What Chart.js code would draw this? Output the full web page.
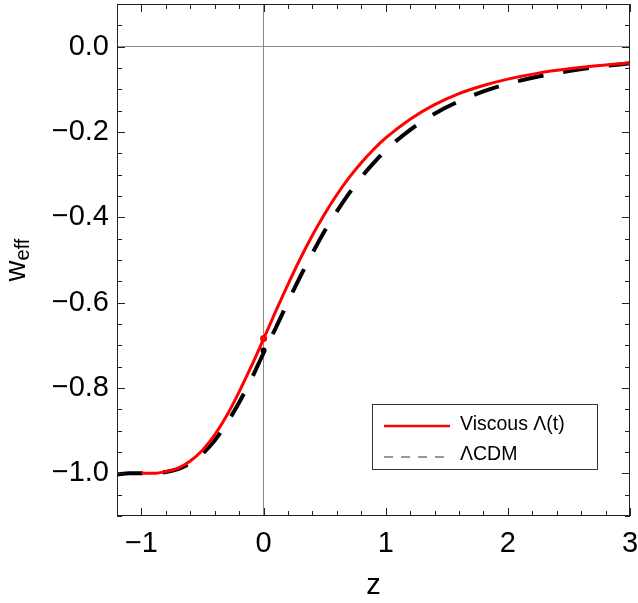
<!DOCTYPE html>
<html>
<head>
<meta charset="utf-8">
<script src="https://cdn.jsdelivr.net/npm/chart.js@4.4.1/dist/chart.umd.min.js"></script>
<style>
  html, body { margin: 0; padding: 0; background: #fff; }
  canvas { display: block; }
</style>
</head>
<body>
<canvas id="weffChart" width="638" height="603"></canvas>
<script>
// values
const zLcdm = [-1.2, -1.1, -1.0, -0.9, -0.8, -0.7, -0.6, -0.5, -0.4, -0.3, -0.2, -0.1, 0.0,
  0.1, 0.2, 0.3, 0.4, 0.5, 0.6, 0.7, 0.8, 0.9, 1.0, 1.2, 1.4, 1.6, 1.8, 2.0, 2.25, 2.5, 2.75, 3.0]
const wLcdm = [-1.003, -1.000, -1.000, -1.000, -0.997, -0.990, -0.976, -0.954, -0.923, -0.882, -0.834, -0.779, -0.718,
  -0.659, -0.598, -0.539, -0.484, -0.432, -0.386, -0.344, -0.306, -0.273, -0.243, -0.195, -0.157, -0.128, -0.105, -0.087, -0.070, -0.057, -0.047, -0.039]

const zViscous = [-1.0, -0.9, -0.8, -0.7, -0.6, -0.5, -0.4, -0.3, -0.2, -0.1, 0.0,
  0.1, 0.2, 0.3, 0.4, 0.5, 0.6, 0.7, 0.8, 0.9, 1.0, 1.2, 1.4, 1.6, 1.8, 2.0, 2.25, 2.5, 2.75, 3.0]
const wViscous = [-1.000, -1.000, -0.996, -0.988, -0.971, -0.946, -0.910, -0.864, -0.809, -0.749, -0.685,
  -0.620, -0.557, -0.497, -0.442, -0.392, -0.347, -0.307, -0.272, -0.241, -0.214, -0.170, -0.136, -0.110, -0.091, -0.076, -0.062, -0.052, -0.044, -0.038]

// today's values (z = 0) marked with a dot
const zToday = [0.0]
const wTodayViscous = [-0.684]
const wTodayLcdm = [-0.712]

const seriesLabels = ['Viscous \u039B(t)', '\u039BCDM']
const xTickValues = [-1, 0, 1, 2, 3]
const xTickLabels = ['\u22121', '0', '1', '2', '3']
const yTickValues = [-1.0, -0.8, -0.6, -0.4, -0.2, 0.0]
const yTickLabels = ['\u22121.0', '\u22120.8', '\u22120.6', '\u22120.4', '\u22120.2', '0.0']

const FONT = '"Liberation Sans", Arial, Helvetica, sans-serif'
const RED = '#ff0000'

function toPoints(xs, ys) {
  return xs.map((x, i) => ({ x: x, y: ys[i] }))
}

// frame + inward ticks on all four sides (mathematica style)
const framePlugin = {
  id: 'frame',
  afterDatasetsDraw(chart) {
    const { ctx, chartArea: a, scales } = chart
    const xs = scales.x, ys = scales.y
    ctx.save()
    ctx.strokeStyle = '#222'
    ctx.lineWidth = 1
    ctx.strokeRect(a.left + 0.5, a.top + 0.5, a.right - a.left - 1, a.bottom - a.top - 1)
    ctx.beginPath()
    // x ticks, minor every 0.2
    for (let i = -6; i <= 15; i++) {
      const px = Math.round(xs.getPixelForValue(i * 0.2)) + 0.5
      const len = (i % 5 === 0) ? 8 : 5
      ctx.moveTo(px, a.bottom); ctx.lineTo(px, a.bottom - len)
      ctx.moveTo(px, a.top); ctx.lineTo(px, a.top + len)
    }
    // y ticks, minor every 0.05
    for (let i = -22; i <= 2; i++) {
      const py = Math.round(ys.getPixelForValue(i * 0.05)) + 0.5
      const len = (i % 4 === 0) ? 8 : 5
      ctx.moveTo(a.left, py); ctx.lineTo(a.left + len, py)
      ctx.moveTo(a.right, py); ctx.lineTo(a.right - len, py)
    }
    ctx.stroke()
    ctx.restore()
  },
  afterDraw(chart) {
    const { ctx, chartArea: a } = chart
    ctx.save()
    // y axis title w_eff
    ctx.translate(25, (a.top + a.bottom) / 2)
    ctx.rotate(-Math.PI / 2)
    ctx.fillStyle = '#000'
    ctx.textBaseline = 'alphabetic'
    ctx.font = '29px ' + FONT
    const wW = ctx.measureText('w').width
    ctx.font = '20px ' + FONT
    const wE = ctx.measureText('eff').width
    const start = -(wW + wE) / 2
    ctx.font = '29px ' + FONT
    ctx.textAlign = 'left'
    ctx.fillText('w', start, 0)
    ctx.font = '20px ' + FONT
    ctx.fillText('eff', start + wW, 4)
    ctx.restore()

    // legend box
    const bx = a.right - 258, by = a.bottom - 112, bw = 225, bh = 65
    ctx.save()
    ctx.fillStyle = '#fff'
    ctx.fillRect(bx, by, bw, bh)
    ctx.strokeStyle = '#333'
    ctx.lineWidth = 1
    ctx.strokeRect(bx + 0.5, by + 0.5, bw, bh)
    ctx.font = '19.5px ' + FONT
    ctx.fillStyle = '#000'
    ctx.textBaseline = 'middle'
    ctx.textAlign = 'left'
    // red entry
    ctx.strokeStyle = RED
    ctx.lineWidth = 2.5
    ctx.beginPath(); ctx.moveTo(bx + 12, by + 22); ctx.lineTo(bx + 78, by + 22); ctx.stroke()
    ctx.fillText(chart.data.datasets[0].label, bx + 88, by + 21)
    // dashed entry
    ctx.strokeStyle = '#777'
    ctx.lineWidth = 1.5
    ctx.setLineDash([9, 8])
    ctx.beginPath(); ctx.moveTo(bx + 12, by + 53); ctx.lineTo(bx + 80, by + 53); ctx.stroke()
    ctx.setLineDash([])
    ctx.fillText(chart.data.datasets[1].label, bx + 88, by + 51)
    ctx.restore()
  }
}

const ctx = document.getElementById('weffChart').getContext('2d')
const weffChart = new Chart(ctx, {
  type: 'line',
  data: {
    datasets: [
      {
        label: seriesLabels[0],
        data: toPoints(zViscous, wViscous),
        borderColor: RED,
        borderWidth: 3,
        pointRadius: 0,
        cubicInterpolationMode: 'monotone',
        order: 1
      },
      {
        label: seriesLabels[1],
        data: toPoints(zLcdm, wLcdm),
        borderColor: '#000',
        borderWidth: 4,
        borderDash: [26, 20],
        borderCapStyle: 'butt',
        pointRadius: 0,
        cubicInterpolationMode: 'monotone',
        order: 2
      },
      {
        label: 'today viscous',
        type: 'scatter',
        data: toPoints(zToday, wTodayViscous),
        pointRadius: 3.5,
        pointBackgroundColor: RED,
        pointBorderWidth: 0,
        order: 0
      },
      {
        label: 'today lcdm',
        type: 'scatter',
        data: toPoints(zToday, wTodayLcdm),
        pointRadius: 3,
        pointBackgroundColor: '#000',
        pointBorderWidth: 0,
        order: 0
      }
    ]
  },
  options: {
    responsive: false,
    animation: false,
    devicePixelRatio: 1,
    layout: { padding: { top: 4, right: 8, left: 0, bottom: 0 } },
    plugins: {
      legend: { display: false },
      tooltip: { enabled: false }
    },
    scales: {
      x: {
        type: 'linear',
        min: -1.2,
        max: 3,
        afterBuildTicks: (scale) => { scale.ticks = xTickValues.map(v => ({ value: v })) },
        afterFit: (scale) => {
          scale.height = 87
          scale.paddingLeft = 0
          scale.paddingRight = 0
        },
        ticks: {
          color: '#000',
          padding: 11,
          font: { family: FONT, size: 29 },
          callback: (v) => xTickLabels[xTickValues.indexOf(v)]
        },
        grid: {
          drawTicks: false,
          lineWidth: 1,
          color: (c) => (c.tick && c.tick.value === 0) ? '#8a8a8a' : 'rgba(0,0,0,0)'
        },
        border: { display: false },
        title: {
          display: true,
          text: 'z',
          color: '#000',
          font: { family: FONT, size: 29 },
          padding: { top: 4, bottom: 0 }
        }
      },
      y: {
        type: 'linear',
        min: -1.1,
        max: 0.1,
        afterBuildTicks: (scale) => { scale.ticks = yTickValues.map(v => ({ value: v })) },
        afterFit: (scale) => {
          scale.width = 117
          scale.paddingTop = 0
          scale.paddingBottom = 0
        },
        ticks: {
          color: '#000',
          padding: 8,
          font: { family: FONT, size: 29 },
          callback: (v) => yTickLabels[yTickValues.indexOf(v)]
        },
        grid: {
          drawTicks: false,
          lineWidth: 1,
          color: (c) => (c.tick && c.tick.value === 0) ? '#8a8a8a' : 'rgba(0,0,0,0)'
        },
        border: { display: false }
      }
    }
  },
  plugins: [framePlugin]
})
</script>
</body>
</html>
